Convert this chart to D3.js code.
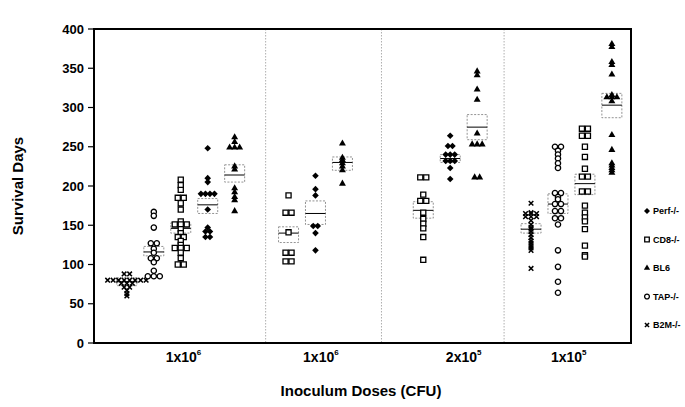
<!DOCTYPE html>
<html><head><meta charset="utf-8">
<script src="https://cdn.jsdelivr.net/npm/d3@7"></script>
<style>
body{margin:0;background:#fff}
text{font-family:Arial,"Liberation Sans",sans-serif;font-weight:bold;fill:#000}
</style>
</head><body><svg id="c" width="685" height="407"></svg>
<script>
// ---------------- data ----------------
const seriesNames = ["Perf-/-", "CD8-/-", "BL6", "TAP-/-", "B2M-/-"];
const doseBase = ["1x10", "1x10", "2x10", "1x10"];
const doseExp = ["6", "6", "5", "5"];
const yTicks = [0, 50, 100, 150, 200, 250, 300, 350, 400];

// survival days of each mouse, by dose group (null = group not tested)
const perfDays = [
  [248, 210, 205, 190, 190, 190, 190, 170, 147, 142, 142, 135, 135],
  [213, 196, 188, 149, 149, 140, 118],
  [264, 251, 251, 240, 240, 240, 232, 232, 232, 223, 209],
  null];
const cd8Days = [
  [208, 201, 195, 185, 185, 178, 170, 155, 151, 151, 151, 145, 140, 135, 135, 130, 125, 121, 121, 121, 115, 108, 100, 100],
  [188, 166, 166, 141, 115, 115, 104, 104],
  [211, 211, 189, 181, 181, 166, 158, 152, 146, 135, 106],
  [273, 273, 264, 264, 250, 237, 222, 212, 212, 193, 193, 175, 166, 160, 155, 145, 124, 112, 110]];
const bl6Days = [
  [262, 256, 249, 249, 249, 225, 221, 197, 192, 186, 182, 168],
  [254, 236, 233, 229, 225, 220, 203],
  [346, 341, 323, 310, 267, 253, 253, 253, 211, 211],
  [381, 377, 358, 354, 342, 316, 313, 313, 313, 308, 265, 246, 229, 226, 223, 220, 217]];
const tapDays = [
  [167, 162, 147, 127, 127, 120, 115, 108, 108, 103, 92, 85, 85, 85],
  null, null,
  [250, 250, 245, 240, 235, 229, 223, 191, 191, 186, 183, 177, 177, 168, 168, 159, 159, 151, 118, 97, 78, 64]];
const b2mDays = [
  [88, 88, 80, 80, 80, 80, 80, 80, 80, 80, 76, 76, 76, 71, 71, 67, 63, 60],
  null, null,
  [178, 166, 165, 165, 165, 161, 161, 161, 156, 151, 147, 145, 142, 138, 134, 130, 127, 124, 121, 118, 95]];

// group mean and box limits (days), by dose group
const perfMean = [176, 165, 235, null], perfLow = [165, 151, 230, null], perfHigh = [184, 181, 240, null];
const cd8Mean = [146, 140, 169, 203], cd8Low = [140, 128, 159, 189], cd8High = [153, 148, 180, 215];
const bl6Mean = [214, 230, 275, 303], bl6Low = [205, 220, 259, 287], bl6High = [227, 237, 291, 318];
const tapMean = [116, null, null, 177], tapLow = [111, null, null, 165], tapHigh = [123, null, null, 190];
const b2mMean = [78, null, null, 145], b2mLow = [73, null, null, 140], b2mHigh = [83, null, null, 152];

// ---------------- layout ----------------
const doseSlots = [
  ["B2M-/-", "TAP-/-", "CD8-/-", "Perf-/-", "BL6"],
  ["CD8-/-", "Perf-/-", "BL6"],
  ["CD8-/-", "Perf-/-", "BL6"],
  ["B2M-/-", "TAP-/-", "CD8-/-", "BL6"]];
const groupStart = [0, 6, 11, 15];
const separators = [5.15, 9.45, 14];
const labelSlot = [2.1, 7.2, 12.5, 16.4];

const seriesData = {
  "Perf-/-": {days: perfDays, mean: perfMean, low: perfLow, high: perfHigh, sym: "diamond", gap: 4.5},
  "CD8-/-": {days: cd8Days, mean: cd8Mean, low: cd8Low, high: cd8High, sym: "square", gap: 6},
  "BL6": {days: bl6Days, mean: bl6Mean, low: bl6Low, high: bl6High, sym: "triangle", gap: 5},
  "TAP-/-": {days: tapDays, mean: tapMean, low: tapLow, high: tapHigh, sym: "circle", gap: 6},
  "B2M-/-": {days: b2mDays, mean: b2mMean, low: b2mLow, high: b2mHigh, sym: "cross", gap: 5.5}
};

const L = 94, R = 631, T = 29, B = 343;
const svg = d3.select("#c");
const x = d3.scaleLinear().domain([-1.22, 18.71]).range([L, R]);
const y = d3.scaleLinear().domain([0, 400]).range([B, T]);

function drawMarker(g, sym, cx, cy, k) {
  k = k || 1;
  if (sym === "cross") {
    const s = 2.3 * k;
    g.append("path")
      .attr("d", `M${cx - s},${cy - s}L${cx + s},${cy + s}M${cx + s},${cy - s}L${cx - s},${cy + s}`)
      .attr("stroke", "#000").attr("stroke-width", 1.5).attr("fill", "none");
    return;
  }
  if (sym === "diamond") {
    const s = 3.3 * k;
    g.append("path")
      .attr("d", `M${cx},${cy - s}L${cx + s},${cy}L${cx},${cy + s}L${cx - s},${cy}Z`)
      .attr("fill", "#000");
    return;
  }
  const types = {square: d3.symbolSquare, triangle: d3.symbolTriangle, circle: d3.symbolCircle};
  const sizes = {square: 26, triangle: 21, circle: 22};
  const p = g.append("path")
    .attr("d", d3.symbol().type(types[sym]).size(sizes[sym] * k * k)())
    .attr("transform", `translate(${cx},${cy})`);
  if (sym === "square" || sym === "circle") {
    p.attr("fill", "#fff").attr("stroke", "#000").attr("stroke-width", 1.3);
  } else {
    p.attr("fill", "#000");
  }
}

// separators
svg.append("g").selectAll("line").data(separators).join("line")
  .attr("x1", d => x(d)).attr("x2", d => x(d)).attr("y1", T).attr("y2", B)
  .attr("stroke", "#9a9a9a").attr("stroke-width", 0.8).attr("stroke-dasharray", "1.5,1.5");

// boxes and points
const plot = svg.append("g");
doseSlots.forEach((slots, gi) => {
  slots.forEach((name, si) => {
    const sd = seriesData[name];
    const cx = x(groupStart[gi] + si);
    if (sd.mean[gi] != null) {
      plot.append("rect")
        .attr("x", cx - 10).attr("width", 20)
        .attr("y", y(sd.high[gi])).attr("height", y(sd.low[gi]) - y(sd.high[gi]))
        .attr("fill", "none").attr("stroke", "#777").attr("stroke-width", 0.8)
        .attr("stroke-dasharray", "2,1.5");
      plot.append("line")
        .attr("x1", cx - 10).attr("x2", cx + 10)
        .attr("y1", y(sd.mean[gi])).attr("y2", y(sd.mean[gi]))
        .attr("stroke", "#000").attr("stroke-width", 1);
    }
    const vals = sd.days[gi] || [];
    const groups = d3.group(vals, v => v);
    groups.forEach((arr, v) => {
      const n = arr.length;
      arr.forEach((_, k) => {
        drawMarker(plot, sd.sym, cx + (k - (n - 1) / 2) * sd.gap, y(v));
      });
    });
  });
});

// frame
svg.append("rect").attr("x", L).attr("y", T).attr("width", R - L).attr("height", B - T)
  .attr("fill", "none").attr("stroke", "#000").attr("stroke-width", 2);

// y axis ticks & labels
const ya = svg.append("g");
ya.selectAll("line").data(yTicks).join("line")
  .attr("x1", L - 6).attr("x2", L).attr("y1", d => y(d)).attr("y2", d => y(d))
  .attr("stroke", "#000").attr("stroke-width", 1.2);
ya.selectAll("text").data(yTicks).join("text")
  .attr("x", L - 10).attr("y", d => y(d)).attr("dy", "0.36em")
  .attr("text-anchor", "end").style("font-size", "13px").text(d => d);

// y title
svg.append("text").attr("transform", "translate(23,186) rotate(-90)")
  .attr("text-anchor", "middle").style("font-size", "15px").text("Survival Days");

// dose labels
doseBase.forEach((b, i) => {
  const t = svg.append("text").attr("x", x(labelSlot[i])).attr("y", 362)
    .attr("text-anchor", "middle").style("font-size", "14px");
  t.append("tspan").text(b);
  t.append("tspan").attr("dy", -7).style("font-size", "8px").text(doseExp[i]);
});

// x title
svg.append("text").attr("x", 361).attr("y", 396).attr("text-anchor", "middle")
  .style("font-size", "15px").text("Inoculum Doses (CFU)");

// legend
const legY = d3.scaleLinear().domain([0, 4]).range([211, 325]);
seriesNames.forEach((name, i) => {
  const g = svg.append("g");
  drawMarker(g, seriesData[name].sym, 647, legY(i), 0.9);
  g.append("text").attr("x", 653).attr("y", legY(i)).attr("dy", "0.35em")
    .style("font-size", "9px").text(name);
});
</script>
</body></html>
